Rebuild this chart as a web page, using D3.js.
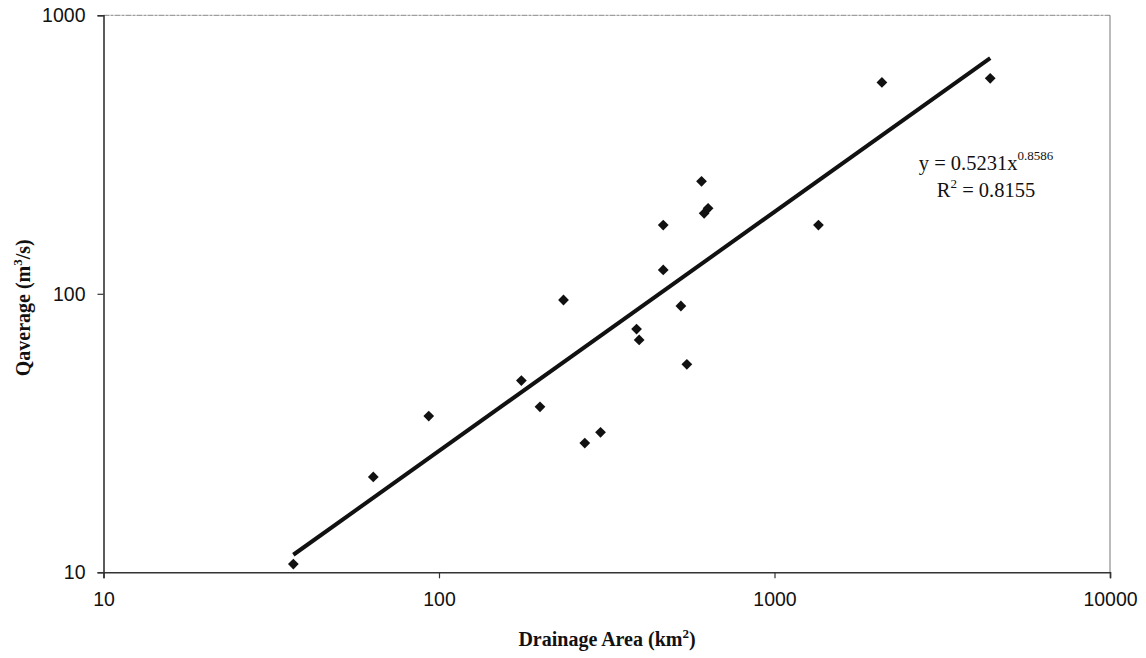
<!DOCTYPE html>
<html>
<head>
<meta charset="utf-8">
<script src="https://cdn.jsdelivr.net/npm/d3@7"></script>
<style>
  html, body { margin: 0; padding: 0; background: #fff; }
  svg { display: block; }
</style>
</head>
<body>
<svg id="chart" width="1146" height="658"></svg>
<script>
// Drainage area (km²) of each station
const drainageArea = [36.8, 63.7, 93.2, 176, 200, 272, 303, 235, 388, 395, 526, 548, 466, 466, 606, 617, 634, 1352, 2090, 4395];
// Average discharge (m³/s)
const qAverage = [10.7, 22.0, 36.4, 48.8, 39.3, 29.1, 31.8, 95.0, 74.7, 68.3, 90.4, 55.8, 121.8, 176.6, 253.5, 194.5, 202.8, 176.6, 574, 594];
// Power-law trendline shown on the chart: y = a * x^b
const trendA = 0.5231;
const trendB = 0.8586;
const trendR2 = 0.8155;
// Axis ticks
const xTicks = [10, 100, 1000, 10000];
const yTicks = [10, 100, 1000];
const xTitle = "Drainage Area (km";
const yTitle = "Qaverage (m";

const W = 1146, H = 658;
const m = { left: 103.5, right: 36, top: 15.3, bottom: 85.7 };
const svg = d3.select("#chart");

const x = d3.scaleLog().domain([10, 10000]).range([m.left, W - m.right]);
const y = d3.scaleLog().domain([10, 1000]).range([H - m.bottom, m.top]);

// plot border (top & right lighter)
svg.append("line").attr("x1", m.left).attr("x2", W - m.right).attr("y1", m.top).attr("y2", m.top)
  .attr("stroke", "#888").attr("stroke-width", 1).attr("stroke-dasharray", "6,1,3,1");
svg.append("line").attr("x1", W - m.right).attr("x2", W - m.right).attr("y1", m.top).attr("y2", H - m.bottom)
  .attr("stroke", "#777").attr("stroke-width", 1);

// axes
const xAxis = d3.axisBottom(x).tickValues(xTicks).tickFormat(d3.format("d")).tickSizeOuter(0).tickSize(6).tickPadding(14);
const yAxis = d3.axisLeft(y).tickValues(yTicks).tickFormat(d3.format("d")).tickSizeOuter(0).tickSize(6).tickPadding(12);

const gx = svg.append("g").attr("transform", `translate(0,${H - m.bottom})`).call(xAxis);
const gy = svg.append("g").attr("transform", `translate(${m.left},0)`).call(yAxis);
[gx, gy].forEach(g => {
  g.select(".domain").attr("stroke", "#333").attr("stroke-width", 1.6);
  g.selectAll(".tick line").attr("stroke", "#333").attr("stroke-width", 1.2);
  g.selectAll(".tick text").attr("fill", "#111")
    .style("font-family", "'Liberation Sans', Arial, sans-serif").style("font-size", "19.5px");
});

// trend line
const xs = d3.extent(drainageArea);
const trend = xs.map(v => [v, trendA * Math.pow(v, trendB)]);
svg.append("path").datum(trend)
  .attr("d", d3.line().x(d => x(d[0])).y(d => y(d[1])))
  .attr("fill", "none").attr("stroke", "#111").attr("stroke-width", 4).attr("stroke-linecap", "butt");

// points
const pts = drainageArea.map((v, i) => [v, qAverage[i]]);
const sym = d3.symbol(d3.symbolSquare, 58);
svg.append("g").selectAll("path").data(pts).join("path")
  .attr("d", sym)
  .attr("transform", d => `translate(${x(d[0])},${y(d[1])}) rotate(45)`)
  .attr("fill", "#111");

// equation text
const eq = svg.append("text").attr("x", 986).attr("y", 170).attr("text-anchor", "middle")
  .style("font-family", "'Liberation Serif', 'Times New Roman', serif").style("font-size", "20.5px").attr("fill", "#111");
eq.append("tspan").text("y = " + trendA + "x");
eq.append("tspan").attr("dy", -10).style("font-size", "13px").text(trendB);
const r2 = svg.append("text").attr("x", 986).attr("y", 197).attr("text-anchor", "middle")
  .style("font-family", "'Liberation Serif', 'Times New Roman', serif").style("font-size", "20.5px").attr("fill", "#111");
r2.append("tspan").text("R");
r2.append("tspan").attr("dy", -9).style("font-size", "13px").text("2");
r2.append("tspan").attr("dy", 9).text(" = " + trendR2);

// axis titles
const tx = svg.append("text").attr("x", 607).attr("y", 646).attr("text-anchor", "middle")
  .style("font-family", "'Liberation Serif', 'Times New Roman', serif").style("font-size", "20px")
  .style("font-weight", "bold").attr("fill", "#111");
tx.append("tspan").text(xTitle);
tx.append("tspan").attr("dy", -8).style("font-size", "13px").text("2");
tx.append("tspan").attr("dy", 8).text(")");

const ty = svg.append("text").attr("transform", `translate(30,${(m.top + H - m.bottom) / 2 + 14}) rotate(-90)`)
  .attr("text-anchor", "middle")
  .style("font-family", "'Liberation Serif', 'Times New Roman', serif").style("font-size", "20px")
  .style("font-weight", "bold").attr("fill", "#111");
ty.append("tspan").text(yTitle);
ty.append("tspan").attr("dy", -8).style("font-size", "13px").text("3");
ty.append("tspan").attr("dy", 8).text("/s)");
</script>
</body>
</html>
